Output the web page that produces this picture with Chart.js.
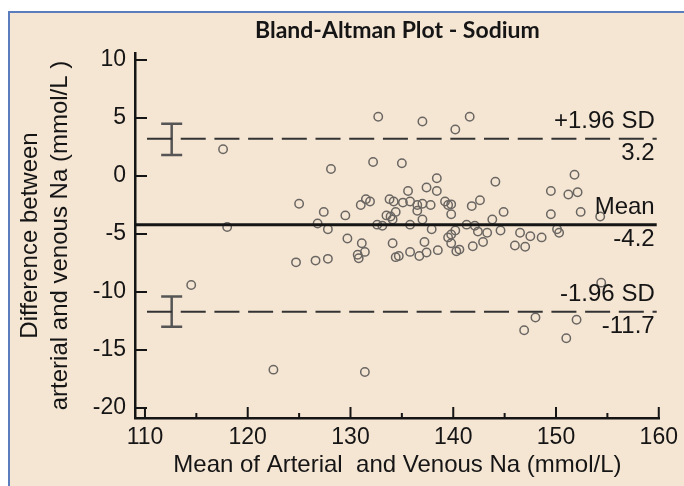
<!DOCTYPE html>
<html>
<head>
<meta charset="utf-8">
<script src="https://cdn.jsdelivr.net/npm/chart.js@4.4.1/dist/chart.umd.min.js"></script>
<style>
    html, body { margin: 0; padding: 0; background: #fff; }
    #frame {
        position: absolute; left: 8px; top: 11px; width: 700px; height: 500px;
        background: #f5e5d3; border-left: 2px solid #5b7dbd; border-top: 2px solid #5b7dbd;
    }
    #wrap { position: absolute; left: 0; top: 0; width: 684px; height: 486px; }
</style>
</head>
<body>
<div id="frame"></div>
<div id="wrap"><canvas id="ba-chart" width="684" height="486"></canvas></div>
<script>
// Mean of arterial and venous Na (x) and their difference (y), one entry per patient
const meanNa = [
    114.5, 117.6, 118.0, 122.5, 124.7, 125.0, 126.6, 126.8, 127.4, 127.8,
    127.8, 128.1, 129.5, 129.7, 130.7, 130.8, 131.0, 131.1, 131.4, 131.4,
    131.5, 131.9, 132.2, 132.6, 132.7, 133.1, 133.5, 133.8, 133.9, 134.1,
    134.1, 134.2, 134.4, 134.4, 134.7, 135.0, 135.1, 135.6, 135.8, 135.8,
    135.8, 136.5, 136.5, 136.7, 137.0, 137.0, 137.0, 137.2, 137.4, 137.4,
    137.8, 137.9, 138.4, 138.4, 138.5, 139.2, 139.5, 139.5, 139.8, 139.8,
    139.8, 139.8, 140.2, 140.2, 140.3, 140.6, 141.3, 141.6, 141.8, 141.9,
    142.1, 142.4, 142.6, 142.9, 143.3, 143.8, 144.1, 144.6, 144.9, 146.0,
    146.5, 146.9, 147.0, 147.5, 148.0, 148.6, 149.5, 149.5, 150.1, 150.3,
    151.0, 151.2, 151.8, 152.0, 152.1, 152.4, 154.3, 154.4
];
const diffNa = [
    -9.4, 2.3, -4.4, -16.7, -7.45, -2.4, -7.3, -4.1, -3.1, -4.6,
    -7.15, 0.6, -3.4, -5.4, -6.8, -7.1, -2.5, -5.8, -6.55, -16.9,
    -2.0, -2.2, 1.2, -4.2, 5.1, -4.3, -3.4, -2.0, -3.5, -3.75,
    -5.8, -2.2, -3.1, -7.0, -6.9, 1.1, -2.3, -1.3, -2.2, -4.2,
    -6.55, -2.5, -3.0, -6.9, 4.7, -2.4, -3.75, -5.7, -1.0, -6.6,
    -2.5, -4.6, -0.2, -1.3, -6.4, -2.2, -2.5, -5.3, -2.45, -3.3,
    -5.05, -5.8, 4.0, -4.7, -6.5, -6.35, -4.2, 5.1, -2.6, -6.06,
    -4.3, -4.8, -2.1, -5.7, -4.9, -3.75, -0.5, -4.7, -3.1, -6.0,
    -4.9, -13.3, -6.1, -5.2, -12.2, -5.3, -1.3, -3.3, -4.6, -4.9,
    -14.0, -1.6, 0.1, -12.4, -1.4, -3.1, -3.5, -9.2
];

// Mean difference and limits of agreement
const limitNames = ['+1.96 SD', 'Mean', '-1.96 SD'];
const limitValues = [3.2, -4.2, -11.7];
// 95% confidence intervals of the two limits of agreement, drawn at ciX
const ciX = 112.6;
const upperLimitCI = [4.5, 1.8];
const lowerLimitCI = [-10.4, -13.0];

// Axes
const xRange = [109.03, 160.1];
const yRange = [-20.87, 10.6];
const xMinorTicks = [115, 125, 135, 145, 155];
const limitLineX = [110.2, 159.8];
const chartTitle = 'Bland-Altman Plot - Sodium';

const ink = '#151515';
const pointColor = '#6a6662';
const axisFont = '"Liberation Sans", Arial, sans-serif';

const points = meanNa.map((m, i) => ({ x: m, y: diffNa[i] }));

function hLine(value, fromX) {
    return [{ x: fromX, y: value }, { x: limitLineX[1], y: value }];
}

const decorPlugin = {
    id: 'decor',
    afterDraw(chart) {
        const { ctx, chartArea, scales: { x, y } } = chart;
        ctx.save();
        ctx.strokeStyle = ink;
        ctx.lineWidth = 2;
        ctx.beginPath();
        // Ticks pointing into the plot
        x.ticks.forEach(t => {
            const px = x.getPixelForValue(t.value);
            ctx.moveTo(px, chartArea.bottom);
            ctx.lineTo(px, chartArea.bottom - 11);
        });
        xMinorTicks.forEach(v => {
            const px = x.getPixelForValue(v);
            ctx.moveTo(px, chartArea.bottom);
            ctx.lineTo(px, chartArea.bottom - 5);
        });
        y.ticks.forEach(t => {
            const py = y.getPixelForValue(t.value);
            ctx.moveTo(chartArea.left, py);
            ctx.lineTo(chartArea.left + 12, py);
        });
        ctx.stroke();

        // Title
        ctx.fillStyle = ink;
        ctx.textAlign = 'center';
        ctx.textBaseline = 'middle';
        ctx.font = 'bold 23px Lato, "Open Sans", sans-serif';
        ctx.fillText(chartTitle, (chartArea.left + chartArea.right) / 2, chartArea.top - 22);

        // Labels on the limit lines
        ctx.textAlign = 'right';
        ctx.font = '24px ' + axisFont;
        const labelX = x.getPixelForValue(limitLineX[1]) - 2;
        limitValues.forEach((v, i) => {
            const py = y.getPixelForValue(v);
            ctx.fillText(limitNames[i], labelX, py - 17);
            ctx.fillText(v.toFixed(1), labelX, py + 15);
        });
        ctx.restore();
    }
};

const ctx = document.getElementById('ba-chart').getContext('2d');
new Chart(ctx, {
    type: 'scatter',
    data: {
        datasets: [
            {
                data: hLine(limitValues[1], xRange[0]),
                showLine: true,
                borderColor: ink,
                borderWidth: 3,
                pointRadius: 0,
            },
            {
                data: hLine(limitValues[0], limitLineX[0]),
                showLine: true,
                borderColor: '#333',
                borderWidth: 2,
                borderDash: [25, 8.7],
                pointRadius: 0,
            },
            {
                data: hLine(limitValues[2], limitLineX[0]),
                showLine: true,
                borderColor: '#333',
                borderWidth: 2,
                borderDash: [25, 8.7],
                pointRadius: 0,
            },
            {
                data: upperLimitCI.map(v => ({ x: ciX, y: v })),
                showLine: true,
                borderColor: '#555',
                borderWidth: 2.5,
                pointStyle: 'line',
                pointRadius: 10.5,
                pointBorderWidth: 2.5,
                pointBorderColor: '#555',
            },
            {
                data: lowerLimitCI.map(v => ({ x: ciX, y: v })),
                showLine: true,
                borderColor: '#555',
                borderWidth: 2.5,
                pointStyle: 'line',
                pointRadius: 10.5,
                pointBorderWidth: 2.5,
                pointBorderColor: '#555',
            },
            {
                data: points,
                pointStyle: 'circle',
                pointRadius: 4.2,
                pointBorderWidth: 1.5,
                pointBorderColor: pointColor,
                pointBackgroundColor: 'rgba(0,0,0,0)',
            },
        ],
    },
    options: {
        responsive: false,
        animation: false,
        layout: { padding: { top: 53, right: 21, bottom: 0, left: 0 } },
        plugins: {
            legend: { display: false },
            tooltip: { enabled: false },
        },
        scales: {
            x: {
                type: 'linear',
                min: xRange[0],
                max: xRange[1],
                grid: { display: false, drawTicks: false },
                border: { display: true, color: ink, width: 2.5 },
                ticks: {
                    stepSize: 10,
                    includeBounds: false,
                    padding: 6,
                    color: ink,
                    font: { family: axisFont, size: 23 },
                },
                title: {
                    display: true,
                    text: 'Mean of Arterial  and Venous Na (mmol/L)',
                    color: ink,
                    padding: { top: 0, bottom: 6 },
                    font: { family: axisFont, size: 24 },
                },
                afterFit: scale => { scale.height = 68; },
            },
            y: {
                type: 'linear',
                min: yRange[0],
                max: yRange[1],
                grid: { display: false, drawTicks: false },
                border: { display: true, color: ink, width: 2.5 },
                ticks: {
                    stepSize: 5,
                    includeBounds: false,
                    padding: 9,
                    color: ink,
                    font: { family: axisFont, size: 23 },
                },
                title: {
                    display: true,
                    text: ['Difference between', 'arterial and venous Na (mmol/L )'],
                    color: ink,
                    padding: { top: 15, bottom: 0 },
                    font: { family: axisFont, size: 24, lineHeight: 1.25 },
                },
                afterFit: scale => { scale.width = 135; },
            },
        },
    },
    plugins: [decorPlugin],
});
</script>
</body>
</html>
